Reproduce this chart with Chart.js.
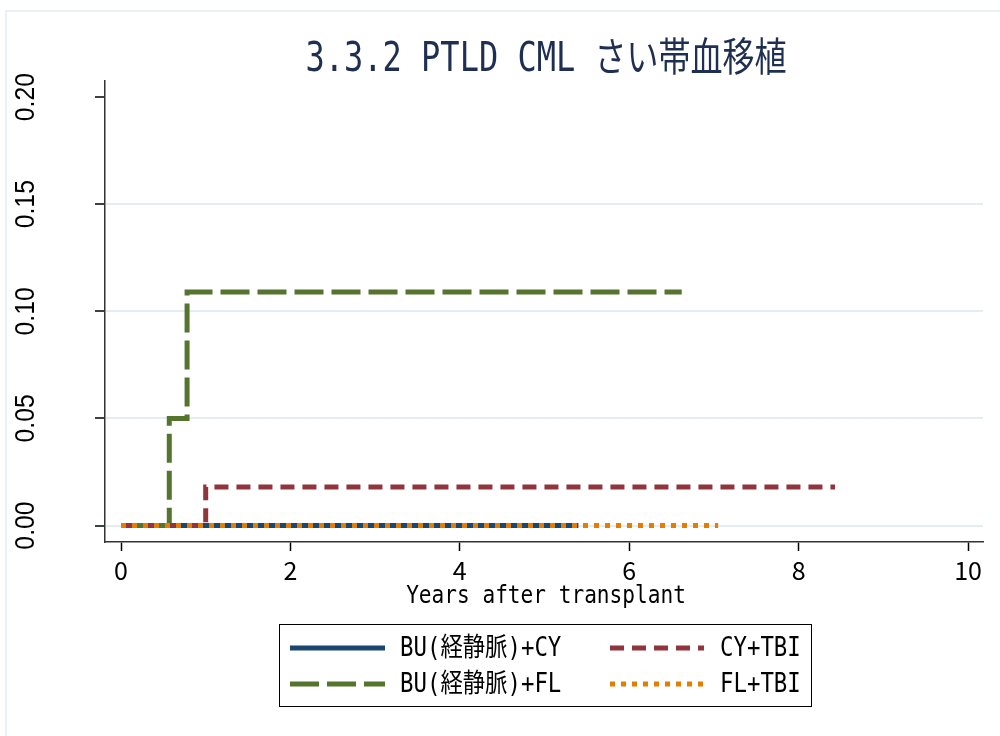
<!DOCTYPE html>
<html>
<head>
<meta charset="utf-8">
<script src="https://cdn.jsdelivr.net/npm/chart.js@4.4.1/dist/chart.umd.min.js"></script>
<style>
  html, body { margin: 0; padding: 0; background: #fff; }
  canvas { display: block; }
</style>
</head>
<body>
<canvas id="kmChart" width="1000" height="736"></canvas>
<script>
// titles and labels
const chartTitle = '3.3.2 PTLD CML さい帯血移植';
const xAxisTitle = 'Years after transplant';
const seriesNames = ['BU(経静脈)+CY', 'BU(経静脈)+FL', 'CY+TBI', 'FL+TBI'];

// step curves (years, cumulative incidence)
const buCyX = [0, 5.40];
const buCyY = [0, 0];
const buFlX = [0, 0.57, 0.78, 6.62];
const buFlY = [0, 0.05, 0.109, 0.109];
const cyTbiX = [0, 1.0, 8.43];
const cyTbiY = [0, 0.018, 0.018];
const flTbiX = [0, 7.05];
const flTbiY = [0, 0];

// axis ticks
const xTicks = [0, 2, 4, 6, 8, 10];
const yTicks = [0, 0.05, 0.10, 0.15, 0.20];
const yTickLabels = ['0.00', '0.05', '0.10', '0.15', '0.20'];

const MONO = "'DejaVu Sans Mono', 'Noto Sans CJK JP'";

function toPoints(xs, ys) {
  return xs.map((x, i) => ({ x: x, y: ys[i] }));
}

function makeSet(i, xs, ys, color, dash, order) {
  return {
    label: seriesNames[i],
    data: toPoints(xs, ys),
    borderColor: color,
    backgroundColor: color,
    borderWidth: 5,
    borderDash: dash,
    borderCapStyle: 'butt',
    stepped: true,
    pointRadius: 0,
    fill: false,
    order: order
  };
}

// squeezed text, like the narrow font of the original
function narrowText(c, text, x, y, sx) {
  c.save();
  c.translate(x, y);
  c.scale(sx, 1);
  c.fillText(text, 0, 0);
  c.restore();
}

// 🖌 Extra drawing: frame, title, rotated y labels, x title, legend box
const decorations = {
  id: 'decorations',
  beforeDraw(chart) {
    const c = chart.ctx;
    c.save();
    c.fillStyle = '#fff';
    c.fillRect(0, 0, chart.width, chart.height);
    c.strokeStyle = '#eaf0f3';
    c.lineWidth = 2;
    c.beginPath();
    c.moveTo(6, 736);
    c.lineTo(6, 11);
    c.lineTo(1000, 11);
    c.stroke();
    c.restore();
  },
  afterDraw(chart) {
    const c = chart.ctx;
    const area = chart.chartArea;
    const yScale = chart.scales.y;
    c.save();

    // title
    c.fillStyle = '#1e2f52';
    c.font = '40px ' + MONO;
    c.textAlign = 'center';
    c.textBaseline = 'middle';
    narrowText(c, chartTitle, (area.left + area.right) / 2 + 2, 61, 0.8);

    // y tick labels, rotated
    c.fillStyle = '#000';
    c.font = "27px 'Liberation Sans'";
    yTicks.forEach((v, i) => {
      const py = yScale.getPixelForValue(v);
      c.save();
      c.translate(26, py);
      c.rotate(-Math.PI / 2);
      c.scale(0.92, 1);
      c.textAlign = 'center';
      c.textBaseline = 'middle';
      c.fillText(yTickLabels[i], 0, 1);
      c.restore();
    });

    // x axis title
    c.font = '24px ' + MONO;
    c.textAlign = 'center';
    c.textBaseline = 'middle';
    narrowText(c, xAxisTitle, (area.left + area.right) / 2 + 2, 597, 0.88);

    // legend
    c.strokeStyle = '#000';
    c.lineWidth = 1;
    c.strokeRect(279.5, 624.5, 532, 82);
    const slots = [
      { ds: 0, x0: 290, x1: 385, tx: 400, y: 648 },
      { ds: 2, x0: 610, x1: 704, tx: 720, y: 648 },
      { ds: 1, x0: 290, x1: 385, tx: 400, y: 684 },
      { ds: 3, x0: 610, x1: 704, tx: 720, y: 684 }
    ];
    c.font = '26px ' + MONO;
    c.textAlign = 'left';
    slots.forEach(s => {
      const ds = chart.data.datasets[s.ds];
      c.save();
      c.strokeStyle = ds.borderColor;
      c.lineWidth = ds.borderWidth;
      c.lineCap = 'butt';
      c.setLineDash(ds.borderDash || []);
      c.beginPath();
      c.moveTo(s.x0, s.y);
      c.lineTo(s.x1, s.y);
      c.stroke();
      c.restore();
      c.fillStyle = '#000';
      narrowText(c, ds.label, s.tx, s.y + 1, 0.86);
    });
    c.restore();
  }
};

const kmChart = new Chart(document.getElementById('kmChart').getContext('2d'), {
  type: 'line',
  data: {
    datasets: [
      makeSet(0, buCyX, buCyY, '#1a476f', [], 4),
      makeSet(1, buFlX, buFlY, '#55752f', [29, 8], 3),
      makeSet(2, cyTbiX, cyTbiY, '#90353b', [14, 8], 2),
      makeSet(3, flTbiX, flTbiY, '#e37e00', [5, 6], 1)
    ]
  },
  options: {
    responsive: false,
    animation: false,
    devicePixelRatio: 1,
    layout: { padding: { left: 0, right: 17, top: 81, bottom: 134 } },
    plugins: {
      legend: { display: false },
      title: { display: false },
      tooltip: { enabled: false }
    },
    scales: {
      x: {
        type: 'linear',
        min: -0.189,
        max: 10.177,
        afterBuildTicks: s => { s.ticks = xTicks.map(v => ({ value: v })); },
        afterFit: s => { s.height = 60; },
        ticks: {
          color: '#000',
          padding: 4,
          maxRotation: 0,
          font: { family: "'Noto Sans CJK JP'", size: 25 },
          callback: v => String(v)
        },
        grid: {
          drawOnChartArea: false,
          drawTicks: true,
          tickLength: 9,
          tickColor: '#000',
          tickWidth: 1.5
        },
        border: { display: true, color: '#333', width: 1.5 }
      },
      y: {
        type: 'linear',
        min: -0.0077,
        max: 0.2075,
        afterBuildTicks: s => { s.ticks = yTicks.map(v => ({ value: v })); },
        afterFit: s => { s.width = 105; },
        ticks: { display: false },
        grid: {
          color: ctx => (ctx.tick && ctx.tick.value >= 0.2) ? 'rgba(0,0,0,0)' : '#e4eef1',
          lineWidth: 2,
          drawTicks: true,
          tickLength: 10,
          tickColor: '#000',
          tickWidth: 1.5
        },
        border: { display: true, color: '#333', width: 1.5 }
      }
    }
  },
  plugins: [decorations]
});
</script>
</body>
</html>
